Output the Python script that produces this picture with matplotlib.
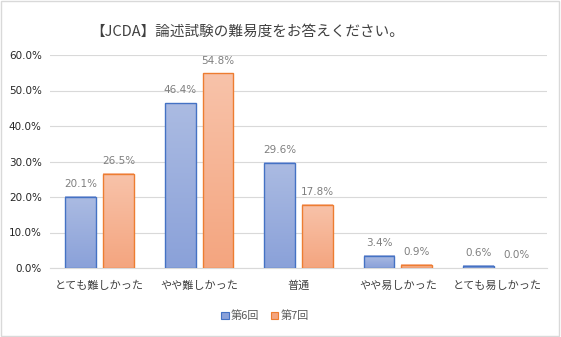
import numpy as np
import matplotlib
matplotlib.use("Agg")
import matplotlib.pyplot as plt
from matplotlib.patches import Rectangle
from matplotlib.colors import LinearSegmentedColormap

plt.rcParams['font.family'] = ['Noto Sans CJK JP', 'DejaVu Sans']

categories = ["とても難しかった", "やや難しかった", "普通", "やや易しかった", "とても易しかった"]
series_names = ["第6回", "第7回"]
round6 = [20.1, 46.4, 29.6, 3.4, 0.6]
round7 = [26.5, 54.8, 17.8, 0.9, 0.0]
yticks = [0, 10, 20, 30, 40, 50, 60]

edge_colors = ["#4472C4", "#ED7D31"]
grad_colors = [("#ABBBE2", "#8AA1D9"), ("#F8C3AA", "#F4A57F")]

fig = plt.figure(figsize=(5.61, 3.37), dpi=100)
fig.patch.set_facecolor("white")
# outer frame
fig.add_artist(Rectangle((0.002, 0.003), 0.995, 0.993, transform=fig.transFigure,
                         fill=False, edgecolor="#D9D9D9", linewidth=1.0))

ax = fig.add_axes([50/561, 1 - 268/337, (547-50)/561, (268-55)/337])
ax.set_xlim(-0.5, len(categories) - 0.5)
ax.set_ylim(0, 60)

width = 0.31
gap = 0.07
offsets = [-(width + gap) / 2, (width + gap) / 2]
grad = np.linspace(1, 0, 256).reshape(-1, 1)

for si, vals in enumerate([round6, round7]):
    cmap = LinearSegmentedColormap.from_list("g%d" % si, [grad_colors[si][1], grad_colors[si][0]])
    for i, v in enumerate(vals):
        x0 = i + offsets[si] - width / 2
        if v > 0:
            ax.imshow(grad, extent=[x0, x0 + width, 0, v], aspect='auto', cmap=cmap,
                      vmin=0, vmax=1, zorder=2, interpolation='bilinear')
            ax.add_patch(Rectangle((x0, 0), width, v, fill=False,
                                   edgecolor=edge_colors[si], linewidth=1.0, zorder=3))
        ax.text(i + offsets[si], v + 2.2, f"{v:.1f}%", ha='center', va='bottom',
                fontsize=7.5, color="#7F7F7F", family=['DejaVu Sans'])

ax.set_xlim(-0.5, len(categories) - 0.5)
ax.set_ylim(0, 60)
ax.set_yticks(yticks)
ax.set_yticklabels([f"{t:.1f}%" for t in yticks], fontsize=7.5, color="#262626",
                   family=['DejaVu Sans'])
ax.set_xticks(range(len(categories)))
ax.set_xticklabels(categories, fontsize=8, color="#404040")
ax.tick_params(axis='y', length=0, pad=6)
ax.tick_params(axis='x', length=0, pad=9)
ax.grid(axis='y', color="#D9D9D9", linewidth=0.8, zorder=0)
ax.set_axisbelow(True)
for s in ["top", "right", "left"]:
    ax.spines[s].set_visible(False)
ax.spines["bottom"].set_color("#D9D9D9")

fig.text(247/561, 1 - 32/337, "【JCDA】論述試験の難易度をお答えください。", ha='center', va='center',
         fontsize=10.5, color="#404040")

handles = [Rectangle((0, 0), 1, 1, facecolor=grad_colors[i][1], edgecolor=edge_colors[i], linewidth=0.8)
           for i in range(2)]
fig.legend(handles, series_names, loc='center', bbox_to_anchor=(265/561, 1 - 316/337), ncol=2,
           frameon=False, fontsize=8, handlelength=0.7, handleheight=0.7,
           handletextpad=0.2, columnspacing=1.0, labelcolor="#595959")

fig.savefig("out.png", dpi=100)
